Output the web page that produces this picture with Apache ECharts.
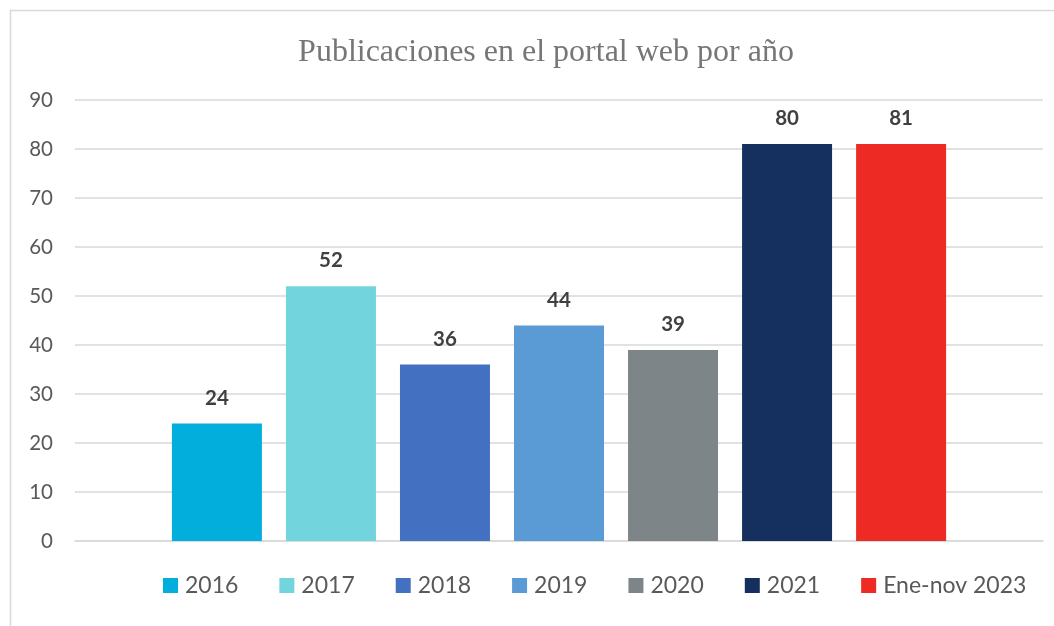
<!DOCTYPE html>
<html>
<head>
<meta charset="utf-8">
<script src="https://cdn.jsdelivr.net/npm/echarts@6/dist/echarts.min.js"></script>
<style>html,body{margin:0;padding:0;background:#fff}#chart{width:1054px;height:626px}</style>
</head>
<body>
<div id="chart"></div>
<script>
const titleText = 'Publicaciones en el portal web por año';
const seriesNames = ['2016', '2017', '2018', '2019', '2020', '2021', 'Ene-nov 2023'];
const seriesValues = [24, 52, 36, 44, 39, 81, 81];
const labelTexts = ['24', '52', '36', '44', '39', '80', '81'];
const seriesColors = ['#02AEDC', '#72D4DC', '#4470C2', '#5B9BD5', '#7E8589', '#152F5E', '#EE2A24'];
const yTicks = { min: 0, max: 90, interval: 10 };

const chart = echarts.init(document.getElementById('chart'));
const series = seriesNames.map((name, i) => ({
  name: name,
  type: 'bar',
  data: [seriesValues[i]],
  barWidth: 90,
  barGap: '26.7%',
  itemStyle: { color: seriesColors[i] },
  label: {
    show: true,
    position: 'top',
    distance: 15,
    formatter: () => labelTexts[i],
    fontFamily: 'Lato',
    fontWeight: 'bold',
    fontSize: 20.5,
    color: '#404040'
  }
}));

chart.setOption({
  animation: false,
  backgroundColor: '#fff',
  graphic: [{
    type: 'rect',
    shape: { x: 10.5, y: 10.5, width: 1200, height: 800 },
    style: { fill: 'none', stroke: '#d9d9d9', lineWidth: 1.5 },
    z: -10
  }],
  title: {
    text: titleText,
    left: 541,
    textAlign: 'center',
    top: 32,
    textStyle: { fontFamily: 'Liberation Serif', fontWeight: 'normal', fontSize: 32, color: '#767676' }
  },
  grid: { left: 75, right: 11, top: 100, bottom: 85, containLabel: false },
  legend: {
    data: seriesNames,
    left: 163,
    top: 574,
    padding: 0,
    itemWidth: 15,
    itemHeight: 15,
    itemGap: 41,
    icon: 'rect',
    textStyle: { fontFamily: 'Lato', fontSize: 23, color: '#595959', padding: [0, 0, 0, 2] }
  },
  xAxis: {
    type: 'category',
    data: [''],
    axisLine: { show: true, lineStyle: { color: '#d9d9d9', width: 1.5 } },
    axisTick: { show: false },
    axisLabel: { show: false }
  },
  yAxis: {
    type: 'value',
    min: yTicks.min,
    max: yTicks.max,
    interval: yTicks.interval,
    axisLine: { show: false },
    axisTick: { show: false },
    axisLabel: { fontFamily: 'Lato', fontSize: 20.5, color: '#595959', margin: 22 },
    splitLine: { lineStyle: { color: '#d9d9d9', width: 1.5 } }
  },
  series: series
});
</script>
</body>
</html>
